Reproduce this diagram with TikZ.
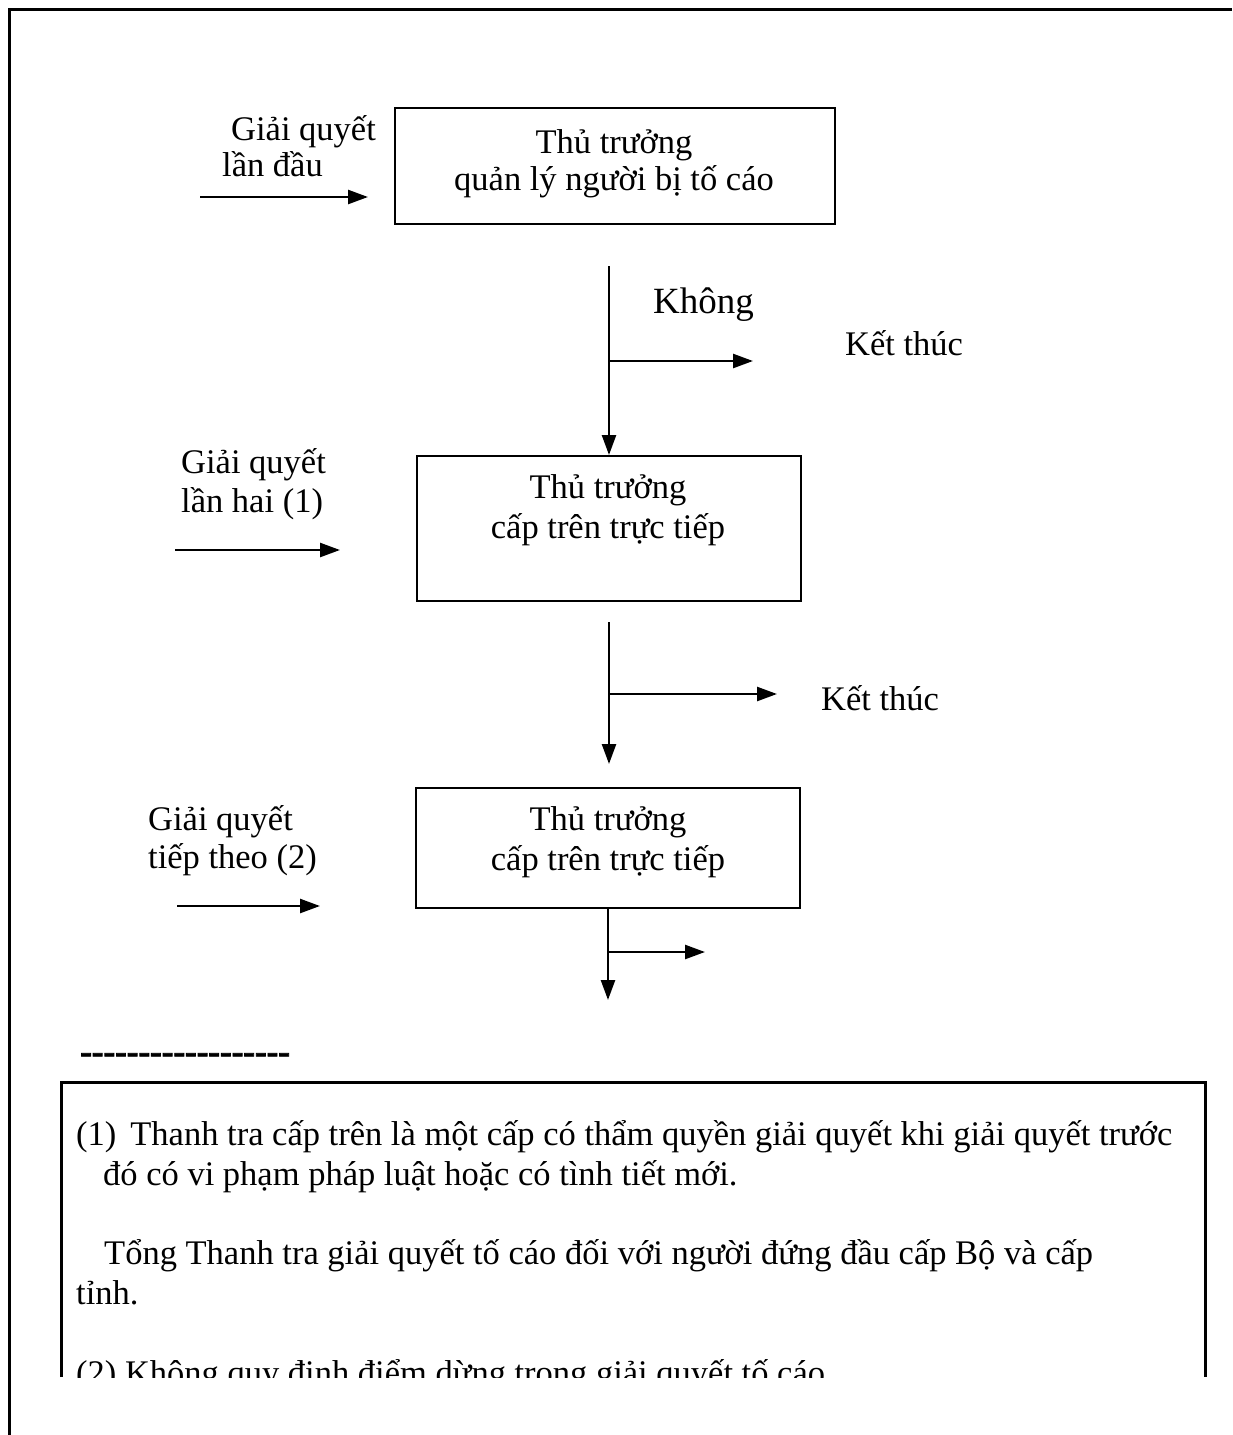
\documentclass[tikz,border=0pt]{standalone}
\usepackage{fontspec}
\setmainfont{Liberation Serif}
\newfontfamily\hyfont{Liberation Serif Bold}[Ligatures=TeXOff, FakeBold=2.5]
\usetikzlibrary{arrows.meta}

\begin{document}
\begin{tikzpicture}[x=1pt,y=-1pt,
  box/.style={draw, line width=2pt, inner sep=0pt},
  flow/.style={line width=2.5pt, -{Triangle[length=20pt,width=14pt]}},
  lbl/.style={inner sep=0pt, anchor=base west, font=\fontsize{34.5}{40}\selectfont},
  mid/.style={inner sep=0pt, anchor=base, font=\fontsize{34.5}{40}\selectfont},
]
\useasboundingbox (0,0) rectangle (1232,1435);

% outer frame: top and left edges only
\coordinate (fa) at (9,1435);
\coordinate (fb) at (9,9);
\coordinate (fc) at (1232,9);
\draw[line width=3pt] (fa) -- (fb) -- (fc);

% ---------- level 1 ----------
\node[box, minimum width=440pt, minimum height=116pt] (b1) at (615,166) {};
\node[mid] (b1a) at (614,153) {Thủ trưởng};
\node[mid] (b1b) at (614,190) {quản lý người bị tố cáo};
\node[lbl] (g1a) at (231,140) {Giải quyết};
\node[lbl] (g1b) at (222,176) {lần đầu};
\coordinate (i1s) at (200,197);
\coordinate (i1e) at (368,197);
\draw[flow] (i1s) -- (i1e);

% ---------- level 2 ----------
\node[box, minimum width=384pt, minimum height=145pt] (b2) at (609,528.5) {};
\node[mid] (b2a) at (608,498) {Thủ trưởng};
\node[mid] (b2b) at (608,538) {cấp trên trực tiếp};
\node[lbl] (g2a) at (181,473) {Giải quyết};
\node[lbl] (g2b) at (181,512) {lần hai (1)};
\coordinate (i2s) at (175,550);
\coordinate (i2e) at (340,550);
\draw[flow] (i2s) -- (i2e);

% branch between level 1 and level 2
\coordinate (v1s) at (609,266);
\coordinate (k1) at (609,361);
\coordinate (k1e) at (753,361);
\draw[flow] (v1s) -- (b2.north);
\draw[flow] (k1) -- (k1e);
\node[lbl, font=\fontsize{37}{40}\selectfont] (no) at (653,313) {Không};
\node[lbl] (end1) at (845,355) {Kết thúc};

% ---------- level 3 ----------
\node[box, minimum width=384pt, minimum height=120pt] (b3) at (608,847.5) {};
\node[mid] (b3a) at (608,830) {Thủ trưởng};
\node[mid] (b3b) at (608,870) {cấp trên trực tiếp};
\node[lbl] (g3a) at (148,830) {Giải quyết};
\node[lbl] (g3b) at (148,868) {tiếp theo (2)};
\coordinate (i3s) at (177,906);
\coordinate (i3e) at (320,906);
\draw[flow] (i3s) -- (i3e);

% branch between level 2 and level 3
\coordinate (v2s) at (609,622);
\coordinate (v2e) at (609,764);
\coordinate (k2) at (609,694);
\coordinate (k2e) at (777,694);
\draw[flow] (v2s) -- (v2e);
\draw[flow] (k2) -- (k2e);
\node[lbl] (end2) at (821,710) {Kết thúc};

% branch below level 3
\coordinate (v3e) at (608,1000);
\coordinate (k3) at (608,952);
\coordinate (k3e) at (705,952);
\draw[flow] (b3.south) -- (v3e);
\draw[flow] (k3) -- (k3e);

% separator
\node[lbl, font=\fontsize{35}{40}\selectfont\hyfont] (sep) at (80,1063) {------------------};

% ---------- notes ----------
\coordinate (na) at (61,1377);
\coordinate (nb) at (61,1082);
\coordinate (nc) at (1205,1082);
\coordinate (nd) at (1205,1377);
\draw[line width=3pt] (na) -- (nb) -- (nc) -- (nd);
\begin{scope}
  \clip (nb) rectangle (nd);
  \node[lbl] (n1a) at (76,1145) {(1)\hspace{14pt}Thanh tra cấp trên là một cấp có thẩm quyền giải quyết khi giải quyết trước};
  \node[lbl] (n1b) at (103,1185) {đó có vi phạm pháp luật hoặc có tình tiết mới.};
  \node[lbl] (n2a) at (104,1264) {Tổng Thanh tra giải quyết tố cáo đối với người đứng đầu cấp Bộ và cấp};
  \node[lbl] (n2b) at (76,1304) {tỉnh.};
  \node[lbl] (n3) at (76,1384) {(2) Không quy định điểm dừng trong giải quyết tố cáo};
\end{scope}
\end{tikzpicture}
\end{document}
